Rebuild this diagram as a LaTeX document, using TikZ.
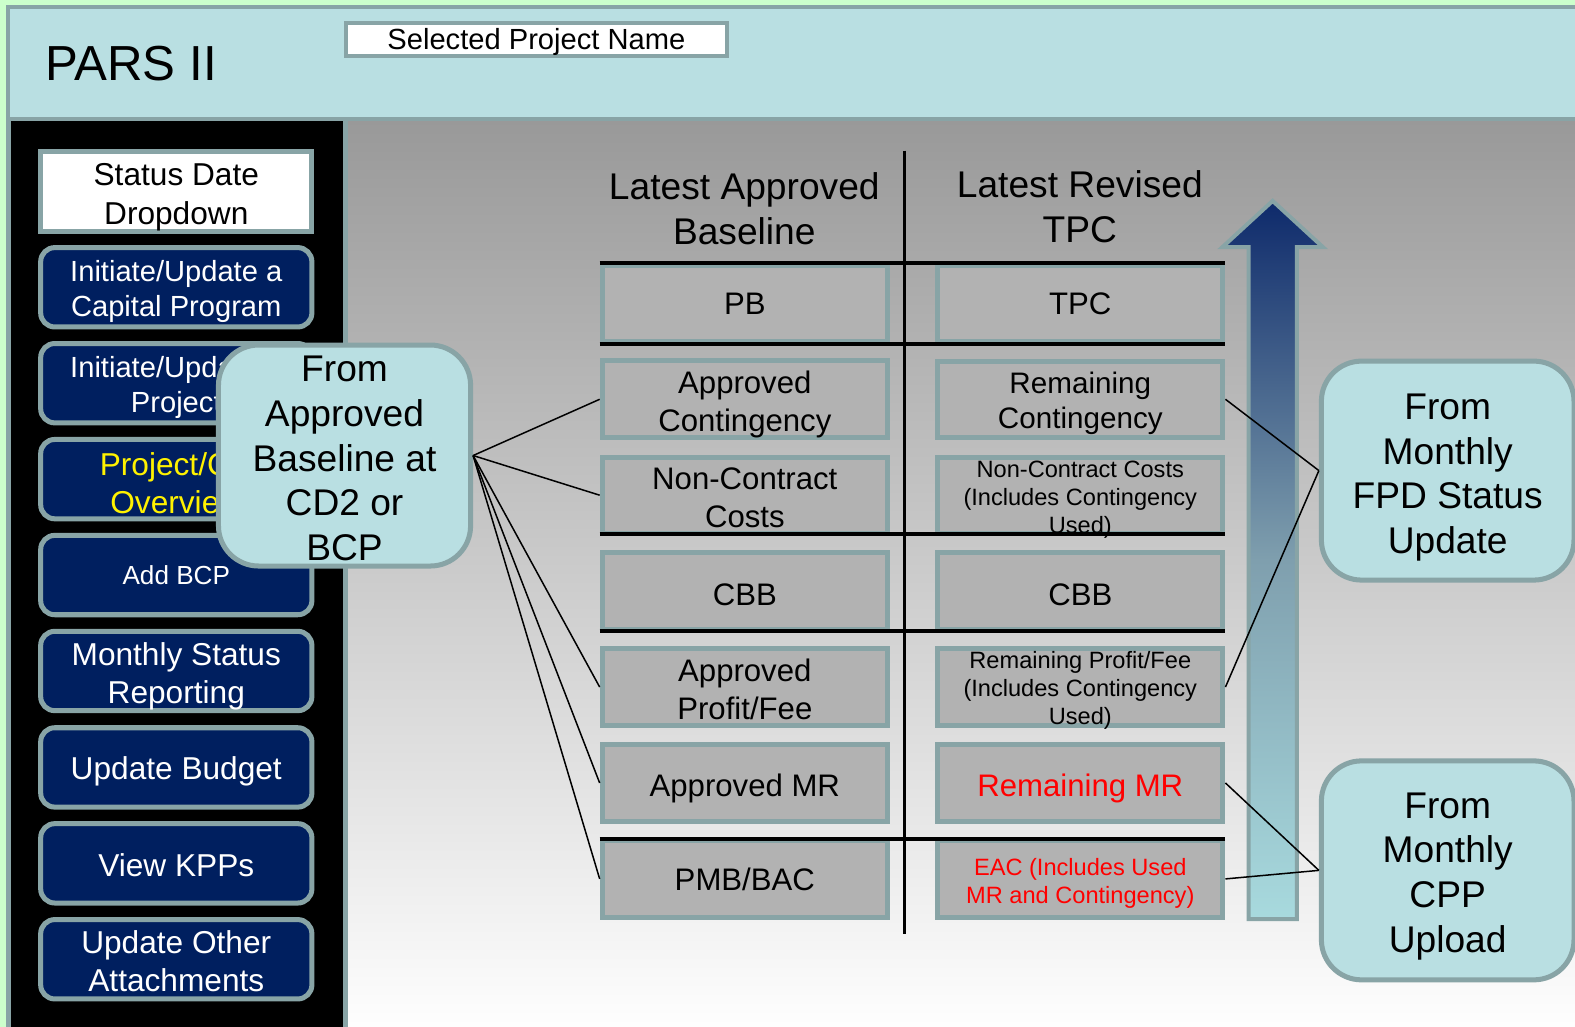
\documentclass[tikz,border=0pt]{standalone}
\usepackage{fontspec}
\setmainfont{Liberation Sans}
\definecolor{greenbg}{HTML}{CCFFCC}
\definecolor{cyanbg}{HTML}{B9DFE2}
\definecolor{bordergray}{HTML}{88A4A6}
\definecolor{navy}{HTML}{001F5F}
\definecolor{cellgray}{HTML}{B2B2B2}
\definecolor{topgray}{HTML}{999999}
\definecolor{arrowtop}{HTML}{0E2A6B}
\definecolor{arrowmid}{HTML}{7F9FAE}
\definecolor{arrowbot}{HTML}{A8DADE}
\newcommand\lowerby[1]{\rule{0pt}{\dimexpr 0.74em+#1pt\relax}}
\begin{document}
\begin{tikzpicture}[x=1pt,y=-1pt,
  drop/.style={execute at begin node={\rule{0pt}{\dimexpr 0.74em+#1pt\relax}}},
  btn/.style={draw=bordergray, line width=5pt, fill=navy, rounded corners=14pt,
    minimum width=270pt, minimum height=79pt, inner sep=0pt, text=white, align=center,
    font=\fontsize{31.5}{38}\selectfont},
  cell/.style={draw=bordergray, line width=5pt, fill=cellgray, minimum width=284pt,
    minimum height=76pt, inner sep=0pt, align=center, font=\fontsize{31}{38}\selectfont},
  smalltext/.style={font=\fontsize{23.5}{28}\selectfont, inner ysep=-10pt},
  callout/.style={draw=bordergray, line width=5pt, fill=cyanbg, rounded corners=40pt,
    inner sep=0pt, align=center, font=\fontsize{37}{44.4}\selectfont},
  hdr/.style={align=center, font=\fontsize{37}{45}\selectfont},
  rulebar/.style={line width=4pt},
  link/.style={line width=1.5pt}]
\useasboundingbox (0,0) rectangle (1568,1022);
\fill[greenbg] (0,0) rectangle (1568,1022);
% main area
\shade[top color=topgray, bottom color=white] (343,120) rectangle (1580,1030);
% header
\draw[fill=cyanbg, draw=bordergray, line width=4pt] (8,7) rectangle (1590,118);
\node[anchor=base west, font=\fontsize{49}{55}\selectfont, inner sep=0pt] (title) at (45,80) {PARS II};
\node[draw=bordergray, line width=4pt, fill=white, minimum width=380pt, minimum height=31pt,
  inner sep=0pt, font=\fontsize{29}{34}\selectfont, drop=5] (projname) at (534,39.5) {Selected Project Name};
% left panel
\fill[black] (10,120) rectangle (342,1030);
\draw[bordergray, line width=5pt] (8,118) -- (8,1030);
\draw[bordergray, line width=5pt] (344,120) -- (344,1030);
% buttons
\node[draw=bordergray, line width=5pt, fill=white, minimum width=270pt, minimum height=80pt,
  inner sep=0pt, align=center, font=\fontsize{31.5}{39}\selectfont] (status) at (175.5,190.5) {\lowerby{10}Status Date\\Dropdown};
\node[btn, font=\fontsize{29}{34.5}\selectfont] (b1) at (175.5,286) {\lowerby{8}Initiate/Update a\\Capital Program};
\node[btn, font=\fontsize{29}{34.5}\selectfont] (b2) at (175.5,381.5) {\lowerby{8}Initiate/Update a\\Project};
\node[btn, text=yellow] (b3) at (175.5,477) {\lowerby{8}Project/CD\\Overview};
\node[btn, font=\fontsize{26}{31}\selectfont] (b4) at (175.5,572.5) {Add BCP};
\node[btn] (b5) at (175.5,668) {\lowerby{10}Monthly Status\\Reporting};
\node[btn, drop=8] (b6) at (175.5,764) {Update Budget};
\node[btn, drop=3] (b7) at (175.5,859.5) {View KPPs};
\node[btn] (b8) at (175.5,955) {\lowerby{4}Update Other\\Attachments};
% arrow
\draw[draw=bordergray, line width=4pt, top color=arrowtop, bottom color=arrowbot, middle color=arrowmid]
  (1243,915) -- (1243,246) -- (1217,246) -- (1267,200) -- (1317,246) -- (1291,246) -- (1291,915) -- cycle;
% table headers
\node[hdr] (hl) at (741,207.5) {Latest Approved\\Baseline};
\node[hdr] (hr) at (1075,205.5) {Latest Revised\\TPC};
% cells
\node[cell] (l1) at (741.5,302) {PB};
\node[cell] (l2) at (741.5,397.5) {\lowerby{9}Approved\\Contingency};
\node[cell] (l3) at (741.5,493) {\lowerby{4}Non-Contract\\Costs};
\node[cell, drop=6] (l4) at (741.5,588.5) {CBB};
\node[cell] (l5) at (741.5,684) {\lowerby{4}Approved\\Profit/Fee};
\node[cell, drop=10] (l6) at (741.5,779.5) {Approved MR};
\node[cell] (l7) at (741.5,875) {PMB/BAC};
\node[cell] (r1) at (1075.5,302) {TPC};
\node[cell, font=\fontsize{29.5}{35}\selectfont] (r2) at (1075.5,397.5) {\lowerby{8}Remaining\\Contingency};
\node[cell, smalltext] (r3) at (1075.5,493) {\lowerby{8}Non-Contract Costs\\(Includes Contingency\\Used)};
\node[cell, drop=6] (r4) at (1075.5,588.5) {CBB};
\node[cell, smalltext] (r5) at (1075.5,684) {\lowerby{7}Remaining Profit/Fee\\(Includes Contingency\\Used)};
\node[cell, text=red, drop=10] (r6) at (1075.5,779.5) {Remaining MR};
\node[cell, smalltext, text=red] (r7) at (1075.5,875) {\lowerby{8}EAC (Includes Used\\MR and Contingency)};
% rules
\draw[line width=3pt] (900,150) coordinate (vtop) -- (900,930) coordinate (vbot);
\foreach \yy in {262,342,532,628,835} \draw[rulebar] (597,\yy) -- (1220,\yy);
% callouts
\node[callout, minimum width=251pt, minimum height=220pt] (fromab) at (343,453.5)
  {\lowerby{4}From\\Approved\\Baseline at\\CD2 or\\BCP};
\node[callout, minimum width=251.5pt, minimum height=218pt] (fpd) at (1441.25,468.5)
  {\lowerby{12}From\\Monthly\\FPD Status\\Update};
\node[callout, minimum width=251.5pt, minimum height=218pt] (cpp) at (1441.25,866.5)
  {\lowerby{10}From\\Monthly\\CPP\\Upload};
% connectors
\foreach \t in {l2,l3,l5,l6,l7} \draw[link] (fromab.east) -- (\t.west);
\draw[link] (r2.east) -- (fpd.west);
\draw[link] (r5.east) -- (fpd.west);
\draw[link] (r6.east) -- (cpp.west);
\draw[link] (r7.east) -- (cpp.west);
\end{tikzpicture}
\end{document}
